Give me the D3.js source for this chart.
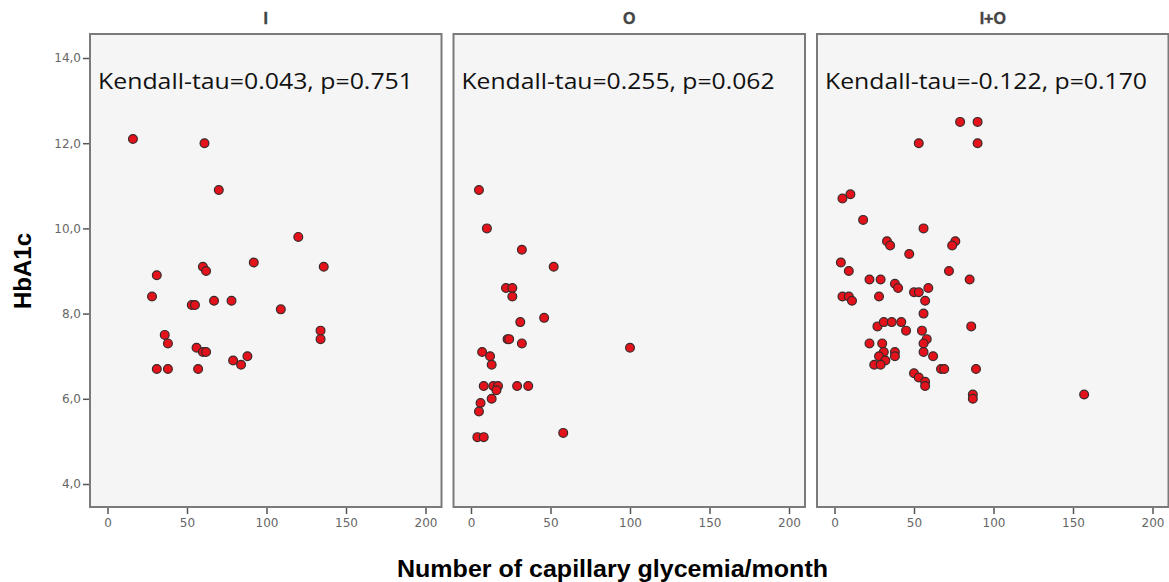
<!DOCTYPE html>
<html>
<head>
<meta charset="utf-8">
<script src="https://cdn.jsdelivr.net/npm/d3@7"></script>
<style>
  html, body { margin: 0; padding: 0; background: #fff; }
  svg { display: block; }
</style>
</head>
<body>
<svg id="chart" width="1169" height="582"></svg>
<script>
// ---- data ----
const panelTitles = ["I", "O", "I+O"];
const kendallLabels = ["Kendall-tau=0.043, p=0.751", "Kendall-tau=0.255, p=0.062", "Kendall-tau=-0.122, p=0.170"];
const xTicks = [0, 50, 100, 150, 200];
const yTicks = [4, 6, 8, 10, 12, 14];

const iX = [16, 61, 70, 120, 92, 136, 31, 60, 62, 28, 53, 55, 67, 78, 109, 134, 134, 36, 38, 56, 60, 62, 88, 79, 84, 31, 38, 57];
const iY = [12.1, 12.0, 10.9, 9.8, 9.2, 9.1, 8.9, 9.1, 9.0, 8.4, 8.2, 8.2, 8.3, 8.3, 8.1, 7.6, 7.4, 7.5, 7.3, 7.2, 7.1, 7.1, 7.0, 6.9, 6.8, 6.7, 6.7, 6.7];

const oX = [5, 10, 32, 52, 22, 26, 26, 46, 31, 23, 24, 32, 100, 7, 12, 13, 8, 14, 17, 16, 29, 36, 13, 6, 5, 4, 8, 58];
const oY = [10.9, 10.0, 9.5, 9.1, 8.6, 8.6, 8.4, 7.9, 7.8, 7.4, 7.4, 7.3, 7.2, 7.1, 7.0, 6.8, 6.3, 6.3, 6.3, 6.2, 6.3, 6.3, 6.0, 5.9, 5.7, 5.1, 5.1, 5.2];

const ioX = [79, 90, 53, 90, 10, 5, 18, 56, 33, 35, 76, 74, 47, 4, 9, 72, 22, 29, 85, 38, 40, 50, 53, 59, 57, 5, 9, 11, 28, 56,
             27, 31, 36, 42, 45, 55, 86, 22, 30, 58, 56, 31, 38, 28, 38, 56, 62, 32, 25, 29, 67, 69, 89, 50, 53, 57, 57, 87, 87, 157];
const ioY = [12.5, 12.5, 12.0, 12.0, 10.8, 10.7, 10.2, 10.0, 9.7, 9.6, 9.7, 9.6, 9.4, 9.2, 9.0, 9.0, 8.8, 8.8, 8.8, 8.7, 8.6, 8.5, 8.5, 8.6, 8.3, 8.4, 8.4, 8.3, 8.4, 8.0,
             7.7, 7.8, 7.8, 7.8, 7.6, 7.6, 7.7, 7.3, 7.3, 7.4, 7.3, 7.1, 7.1, 7.0, 7.0, 7.1, 7.0, 6.9, 6.8, 6.8, 6.7, 6.7, 6.7, 6.6, 6.5, 6.4, 6.3, 6.1, 6.0, 6.1];

const seriesX = [iX, oX, ioX];
const seriesY = [iY, oY, ioY];

// ---- layout ----
const svg = d3.select("#chart");
const panelLeft = [90, 453.5, 817];
const panelW = 351.5;
const plotTop = 34, plotBottom = 507;
const xPad = 17.5;
const labelW = [315, 313, 322];

const y = d3.scaleLinear().domain([4, 14]).range([484, 58]);

panelLeft.forEach((L, i) => {
  const x = d3.scaleLinear().domain([0, 200]).range([L + xPad, L + xPad + 318]);
  const g = svg.append("g");

  // panel background + frame
  g.append("rect")
    .attr("x", L).attr("y", plotTop)
    .attr("width", panelW).attr("height", plotBottom - plotTop)
    .attr("fill", "#f5f5f5")
    .attr("stroke", "#7a7a7a").attr("stroke-width", 2);

  // title
  g.append("text")
    .attr("x", L + panelW / 2).attr("y", 24)
    .attr("text-anchor", "middle")
    .attr("font-family", "Liberation Sans, Arial, sans-serif")
    .attr("font-weight", "bold").attr("font-size", 16)
    .attr("fill", "#444")
    .attr("stroke", "#444").attr("stroke-width", 0.4)
    .text(panelTitles[i]);

  // x axis
  const xAxis = d3.axisBottom(x).tickValues(xTicks).tickSize(6).tickPadding(4).tickFormat(d3.format("d"));
  const xg = g.append("g").attr("transform", `translate(0,${plotBottom + 1})`).call(xAxis);
  xg.select(".domain").remove();
  xg.selectAll("line").attr("stroke", "#555").attr("stroke-width", 1.5);
  xg.selectAll("text").attr("font-family", "DejaVu Sans, sans-serif").attr("font-size", 12).attr("fill", "#666");

  // points
  const pts = seriesX[i].map((v, k) => ({ x: v, y: seriesY[i][k] }));
  g.selectAll("circle.pt").data(pts).enter().append("circle")
    .attr("class", "pt")
    .attr("cx", d => x(d.x)).attr("cy", d => y(d.y))
    .attr("r", 4.4)
    .attr("fill", "#e3121b")
    .attr("stroke", "#3a2a2a").attr("stroke-width", 1.2);

  // Kendall annotation
  g.append("text")
    .attr("x", L + 8).attr("y", 89)
    .attr("font-family", "Open Sans, Noto Sans, sans-serif")
    .attr("font-size", 22)
    .attr("fill", "#111")
    .attr("textLength", labelW[i]).attr("lengthAdjust", "spacingAndGlyphs")
    .text(kendallLabels[i]);
});

// y axis (first panel only)
const yAxis = d3.axisLeft(y).tickValues(yTicks).tickSize(6).tickPadding(2).tickFormat(d => d3.format(".1f")(d).replace(".", ","));
const yg = svg.append("g").attr("transform", `translate(${panelLeft[0] - 1},0)`).call(yAxis);
yg.select(".domain").remove();
yg.selectAll("line").attr("stroke", "#555").attr("stroke-width", 1.5);
yg.selectAll("text").attr("font-family", "DejaVu Sans, sans-serif").attr("font-size", 12).attr("fill", "#666");

// axis titles
svg.append("text")
  .attr("transform", "translate(31,271) rotate(-90)")
  .attr("text-anchor", "middle")
  .attr("font-family", "Liberation Sans, Arial, sans-serif")
  .attr("font-weight", "bold").attr("font-size", 24)
  .attr("fill", "#000")
  .text("HbA1c");

svg.append("text")
  .attr("x", 397).attr("y", 577)
  .attr("font-family", "Liberation Sans, Arial, sans-serif")
  .attr("font-weight", "bold").attr("font-size", 23)
  .attr("fill", "#000")
  .attr("textLength", 431).attr("lengthAdjust", "spacingAndGlyphs")
  .text("Number of capillary glycemia/month");
</script>
</body>
</html>
